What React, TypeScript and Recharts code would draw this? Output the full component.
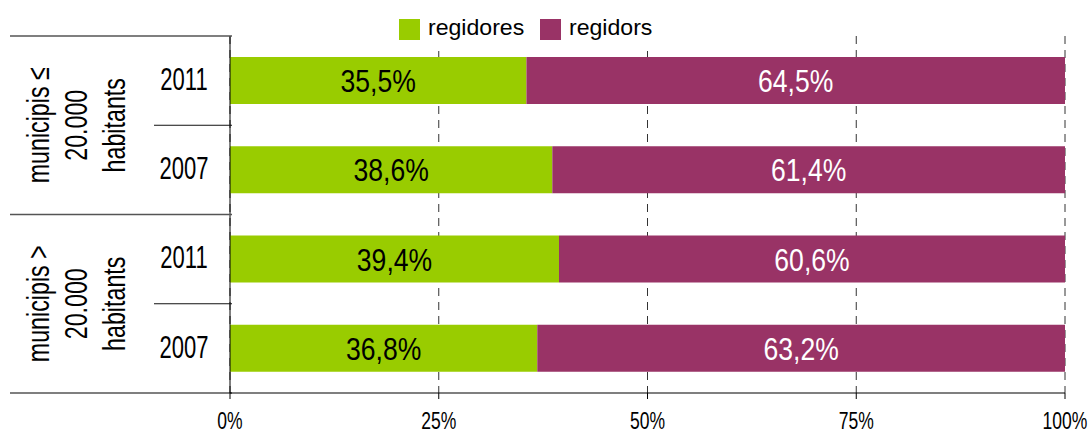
import { useEffect } from 'react';
import { BarChart, Bar, XAxis, YAxis, CartesianGrid, LabelList } from 'recharts';

const years = ['2011', '2007', '2011', '2007'];
const groups = [['municipis ≤', '20.000', 'habitants'], ['municipis >', '20.000', 'habitants']];
const regidores = [35.5, 38.6, 39.4, 36.8];
const regidors = [64.5, 61.4, 60.6, 63.2];
const xTicks = [0, 25, 50, 75, 100];

const GREEN = '#99cc00';
const PURPLE = '#993366';
const FONT = "'Liberation Sans', Arial, sans-serif";

const W = 1088;
const H = 434;
const M = { top: 36, right: 23, bottom: 0, left: 10 };
const Y_W = 220;
const X_H = 41;

const data = years.map((y, i) => ({ key: `${i}`, year: y, regidores: regidores[i], regidors: regidors[i] }));

const plotH = H - M.top - M.bottom - X_H;
const band = plotH / data.length;
const fmt = (v: number) => `${v.toFixed(1).replace('.', ',')}%`;

// narrow text: Liberation Sans squeezed horizontally to look like Arial Narrow
function NText({ x, y, size, sx, color = '#000', rotate = 0, children }: any) {
  return (
    <text transform={`translate(${x} ${y}) rotate(${rotate}) scale(${sx} 1)`} x={0} y={0} dy="0.36em"
      textAnchor="middle" fontFamily={FONT} fontSize={size} fill={color}>{children}</text>
  );
}

function YearTick({ x, y, payload, index }: any) {
  const i = Number(payload.value ?? index);
  const axisX = x + 10;
  const left = M.left;
  const top = y - band / 2;
  const isFirst = i % 2 === 0;
  const g = groups[Math.floor(i / 2)];
  const gy = y + band / 2;
  return (
    <g>
      <NText x={axisX - 48} y={y - 2} size={31} sx={0.71}>{data[i].year}</NText>
      {isFirst ? (
        <>
          <line x1={left} x2={axisX} y1={top} y2={top} stroke="#555" strokeWidth={1.6} />
          {g.map((t, k) => (
            <NText key={k} x={38 + k * 38} y={gy} size={31} sx={0.75} rotate={-90}>{t}</NText>
          ))}
        </>
      ) : (
        <line x1={axisX - 78} x2={axisX} y1={top} y2={top} stroke="#111" strokeWidth={1} />
      )}
      {i === data.length - 1 && (
        <line x1={left} x2={axisX} y1={y + band / 2} y2={y + band / 2} stroke="#000" strokeWidth={1.2} />
      )}
    </g>
  );
}

function XTick({ x, y, payload }: any) {
  return <NText x={x} y={y + 19} size={24} sx={0.73}>{`${payload.value}%`}</NText>;
}

function BarLabel({ x, y, width, height, value, textColor }: any) {
  return <NText x={x + width / 2} y={y + height / 2} size={32} sx={0.83} color={textColor}>{fmt(Number(value))}</NText>;
}

function LegendBox() {
  const items = [
    { name: 'regidores', color: GREEN, x: 14 },
    { name: 'regidors', color: PURPLE, x: 155 },
  ];
  return (
    <div style={{ position: 'absolute', left: 385, top: 0, width: 300, height: 51, background: '#fff' }}>
      <svg width={300} height={51}>
        {items.map((it) => (
          <g key={it.name}>
            <rect x={it.x} y={19} width={21} height={21} fill={it.color} />
            <text x={it.x + 29} y={35} fontFamily={FONT} fontSize={22} fill="#000"
              transform={`translate(${it.x + 29} 0) scale(1.05 1) translate(${-(it.x + 29)} 0)`}>{it.name}</text>
          </g>
        ))}
      </svg>
    </div>
  );
}

export default function App() {
  useEffect(() => {
    document.body.style.margin = '0';
  }, []);
  return (
    <div style={{ position: 'relative', width: W, height: H, background: '#fff' }}>
      <BarChart width={W} height={H} data={data} layout="vertical" margin={M} barCategoryGap={21}>
        <CartesianGrid horizontal={false} vertical stroke="#333" strokeDasharray="8 6" />
        <XAxis type="number" domain={[0, 100]} ticks={xTicks} height={X_H}
          axisLine={{ stroke: '#000', strokeWidth: 1.2 }} tickLine={{ stroke: '#000' }} tickSize={6}
          tick={<XTick />} interval={0} />
        <YAxis type="category" dataKey="key" width={Y_W}
          axisLine={{ stroke: '#000', strokeWidth: 1 }} tickLine={false} tick={<YearTick />} interval={0} />
        <Bar dataKey="regidores" name="regidores" stackId="a" fill={GREEN} isAnimationActive={false}>
          <LabelList dataKey="regidores" content={<BarLabel textColor="#000" />} />
        </Bar>
        <Bar dataKey="regidors" name="regidors" stackId="a" fill={PURPLE} isAnimationActive={false}>
          <LabelList dataKey="regidors" content={<BarLabel textColor="#fff" />} />
        </Bar>
      </BarChart>
      <LegendBox />
    </div>
  );
}
